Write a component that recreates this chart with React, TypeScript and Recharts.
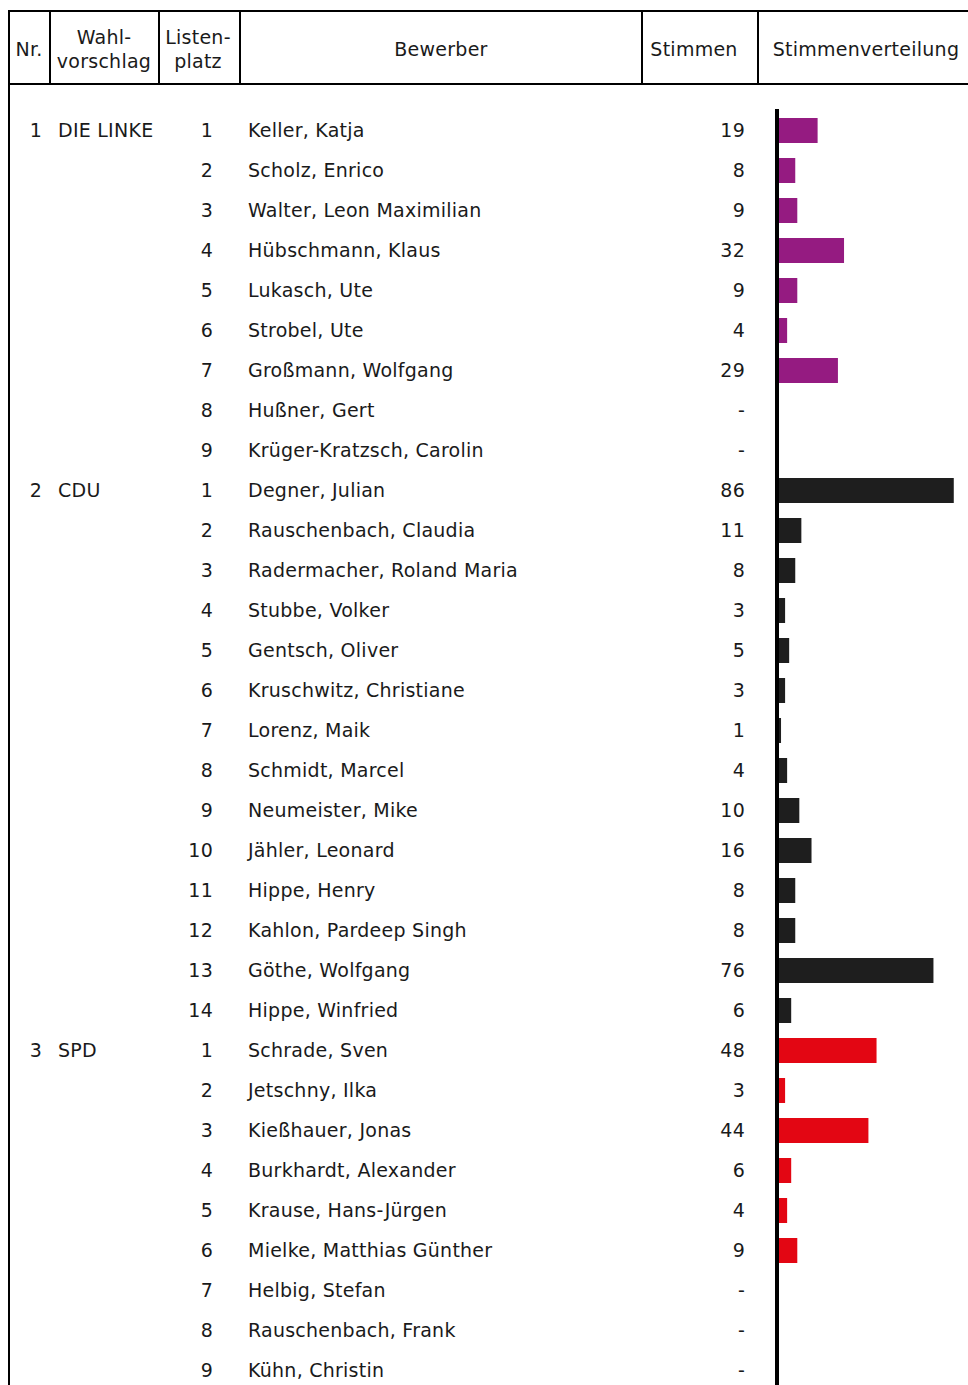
import React from "react";
import { BarChart, Bar, XAxis, YAxis, Cell } from "recharts";

const partyNames = ["DIE LINKE", "CDU", "SPD"];
const partyColors = ["#951b81", "#1e1e1e", "#e30613"];

const linkeCandidates = [
  "Keller, Katja",
  "Scholz, Enrico",
  "Walter, Leon Maximilian",
  "Hübschmann, Klaus",
  "Lukasch, Ute",
  "Strobel, Ute",
  "Großmann, Wolfgang",
  "Hußner, Gert",
  "Krüger-Kratzsch, Carolin",
];
const linkeVotes: (number | null)[] = [19, 8, 9, 32, 9, 4, 29, null, null];

const cduCandidates = [
  "Degner, Julian",
  "Rauschenbach, Claudia",
  "Radermacher, Roland Maria",
  "Stubbe, Volker",
  "Gentsch, Oliver",
  "Kruschwitz, Christiane",
  "Lorenz, Maik",
  "Schmidt, Marcel",
  "Neumeister, Mike",
  "Jähler, Leonard",
  "Hippe, Henry",
  "Kahlon, Pardeep Singh",
  "Göthe, Wolfgang",
  "Hippe, Winfried",
];
const cduVotes: (number | null)[] = [86, 11, 8, 3, 5, 3, 1, 4, 10, 16, 8, 8, 76, 6];

const spdCandidates = [
  "Schrade, Sven",
  "Jetschny, Ilka",
  "Kießhauer, Jonas",
  "Burkhardt, Alexander",
  "Krause, Hans-Jürgen",
  "Mielke, Matthias Günther",
  "Helbig, Stefan",
  "Rauschenbach, Frank",
  "Kühn, Christin",
];
const spdVotes: (number | null)[] = [48, 3, 44, 6, 4, 9, null, null, null];

const headerLabels = ["Nr.", "Wahl-\nvorschlag", "Listen-\nplatz", "Bewerber", "Stimmen", "Stimmenverteilung"];

type Row = {
  key: string;
  nr: number;
  party: string;
  first: boolean;
  place: number;
  name: string;
  votes: number | null;
  color: string;
};

const groups = [
  { names: linkeCandidates, votes: linkeVotes },
  { names: cduCandidates, votes: cduVotes },
  { names: spdCandidates, votes: spdVotes },
];

const data: Row[] = [];
groups.forEach((g, gi) => {
  g.names.forEach((name, i) => {
    data.push({
      key: `r${data.length}`,
      nr: gi + 1,
      party: partyNames[gi],
      first: i === 0,
      place: i + 1,
      name,
      votes: g.votes[i],
      color: partyColors[gi],
    });
  });
});

const FONT = "'DejaVu Sans', Verdana, sans-serif";
const FS = 19;
const TXT = "#1a1a1a";
const LS = 0.25;

const RowTick = (props: any) => {
  const { y, payload } = props;
  const row = data[payload.index];
  if (!row) return null;
  const by = y + 7;
  return (
    <g fontFamily={FONT} fontSize={FS} fill={TXT} letterSpacing={LS}>
      {row.first && (
        <text x={42} y={by} textAnchor="end">
          {row.nr}
        </text>
      )}
      {row.first && (
        <text x={58} y={by}>
          {row.party}
        </text>
      )}
      <text x={213} y={by} textAnchor="end">
        {row.place}
      </text>
      <text x={248} y={by}>
        {row.name}
      </text>
      <text x={745} y={by} textAnchor="end">
        {row.votes == null ? "-" : row.votes}
      </text>
    </g>
  );
};

const Header = () => {
  const vx = [50, 159, 240, 642, 758];
  const centers = [29, 104, 198, 441, 694, 866];
  return (
    <svg
      width={968}
      height={1385}
      style={{ position: "absolute", left: 0, top: 0, pointerEvents: "none" }}
    >
      <line x1={8} y1={11} x2={968} y2={11} stroke="#000" strokeWidth={2} />
      <line x1={8} y1={84} x2={968} y2={84} stroke="#000" strokeWidth={2} />
      <line x1={9} y1={10} x2={9} y2={1385} stroke="#000" strokeWidth={2} />
      {vx.map((x) => (
        <line key={x} x1={x} y1={11} x2={x} y2={84} stroke="#000" strokeWidth={2} />
      ))}
      <g fontFamily={FONT} fontSize={FS} fill={TXT} textAnchor="middle" letterSpacing={LS}>
        {headerLabels.map((lab, i) => {
          const parts = lab.split("\n");
          if (parts.length === 1)
            return (
              <text key={i} x={centers[i]} y={56}>
                {lab}
              </text>
            );
          return (
            <g key={i}>
              <text x={centers[i]} y={44}>
                {parts[0]}
              </text>
              <text x={centers[i]} y={68}>
                {parts[1]}
              </text>
            </g>
          );
        })}
      </g>
    </svg>
  );
};

export default function App() {
  return (
    <div style={{ position: "relative", width: 968, height: 1385, overflow: "hidden", background: "#fff" }}>
      <style>{`html,body{margin:0;padding:0;overflow:hidden;background:#fff}`}</style>
      <BarChart
        width={968}
        height={1390}
        data={data}
        layout="vertical"
        margin={{ top: 110, right: 0, bottom: 0, left: 0 }}
        barCategoryGap={0}
      >
        <XAxis type="number" domain={[0, 93]} hide />
        <YAxis
          type="category"
          dataKey="key"
          width={779}
          tickLine={false}
          interval={0}
          axisLine={false}
          tick={<RowTick />}
        />
        <Bar dataKey="votes" barSize={25} isAnimationActive={false}>
          {data.map((d) => (
            <Cell key={d.key} fill={d.color} />
          ))}
        </Bar>
      </BarChart>
      <svg
        width={968}
        height={1385}
        style={{ position: "absolute", left: 0, top: 0, pointerEvents: "none" }}
      >
        <line x1={777} y1={109} x2={777} y2={1385} stroke="#000" strokeWidth={4} />
      </svg>
      <Header />
    </div>
  );
}
